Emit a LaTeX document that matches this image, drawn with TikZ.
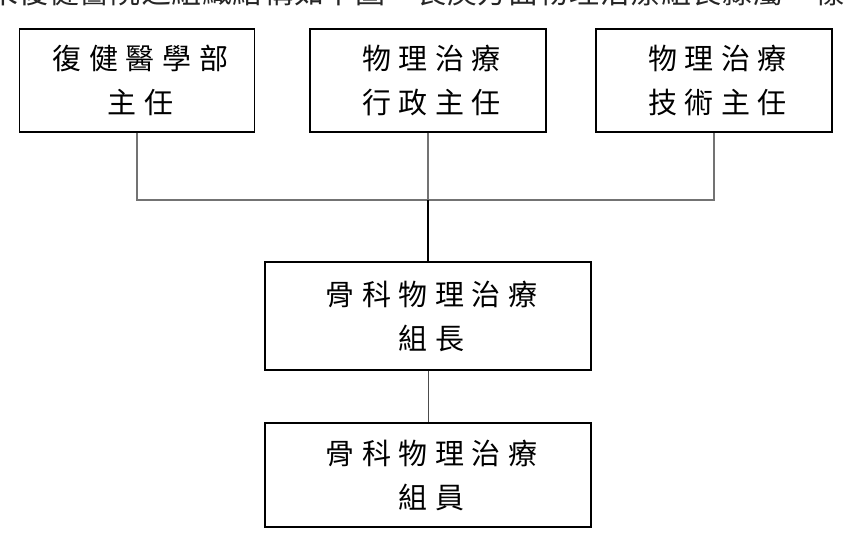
\documentclass[tikz,border=0pt]{standalone}
\usepackage{fontspec}
\newfontfamily\cjk[LetterSpace=26]{Noto Sans CJK TC}
\newfontfamily\cjktop[LetterSpace=2]{Noto Sans CJK TC}
\begin{document}
\begin{tikzpicture}[x=1pt,y=-1pt,
  boxstyle/.style={draw=black,line width=1.3pt,minimum width=#1,align=center,inner sep=0pt,font=\cjk\fontsize{29}{44}\selectfont},
  linkgray/.style={draw=black!55,line width=1.6pt},
  linkbold/.style={draw=black,line width=2.6pt},
  linkthin/.style={draw=black!70,line width=1pt}]
\useasboundingbox (0,0) rectangle (850,547);
\clip (0,0) rectangle (850,547);
\node[anchor=south west,font=\cjktop\fontsize{30}{30}\selectfont,text=black!85,inner sep=0pt] (toptext) at (-12,6) {來復健醫院之組織結構如下圖，長庚方面物理治療組長隸屬一樣};
\node[boxstyle=235pt,minimum height=103pt] (b1) at (137,80.5) {\hspace*{7pt}復健醫學部\\\hspace*{7pt}主任};
\node[boxstyle=236pt,minimum height=103pt] (b2) at (428,80.5) {\hspace*{7pt}物理治療\\\hspace*{7pt}行政主任};
\node[boxstyle=236pt,minimum height=103pt] (b3) at (714,80.5) {\hspace*{7pt}物理治療\\\hspace*{7pt}技術主任};
\node[boxstyle=326pt,minimum height=108pt] (b4) at (428,316) {\hspace*{7pt}骨科物理治療\\\hspace*{7pt}組長};
\node[boxstyle=326pt,minimum height=104pt] (b5) at (428,475) {\hspace*{7pt}骨科物理治療\\\hspace*{7pt}組員};
\coordinate (j1) at (b1.south |- 0,200);
\coordinate (j2) at (b2.south |- 0,200);
\coordinate (j3) at (b3.south |- 0,200);
\draw[linkgray] (b1.south) -- (j1) -- (j3) -- (b3.south);
\draw[linkgray] (b2.south) -- (j2);
\draw[linkbold] (j2) -- (b4.north);
\draw[linkthin] (b4.south) -- (b5.north);
\end{tikzpicture}
\end{document}
